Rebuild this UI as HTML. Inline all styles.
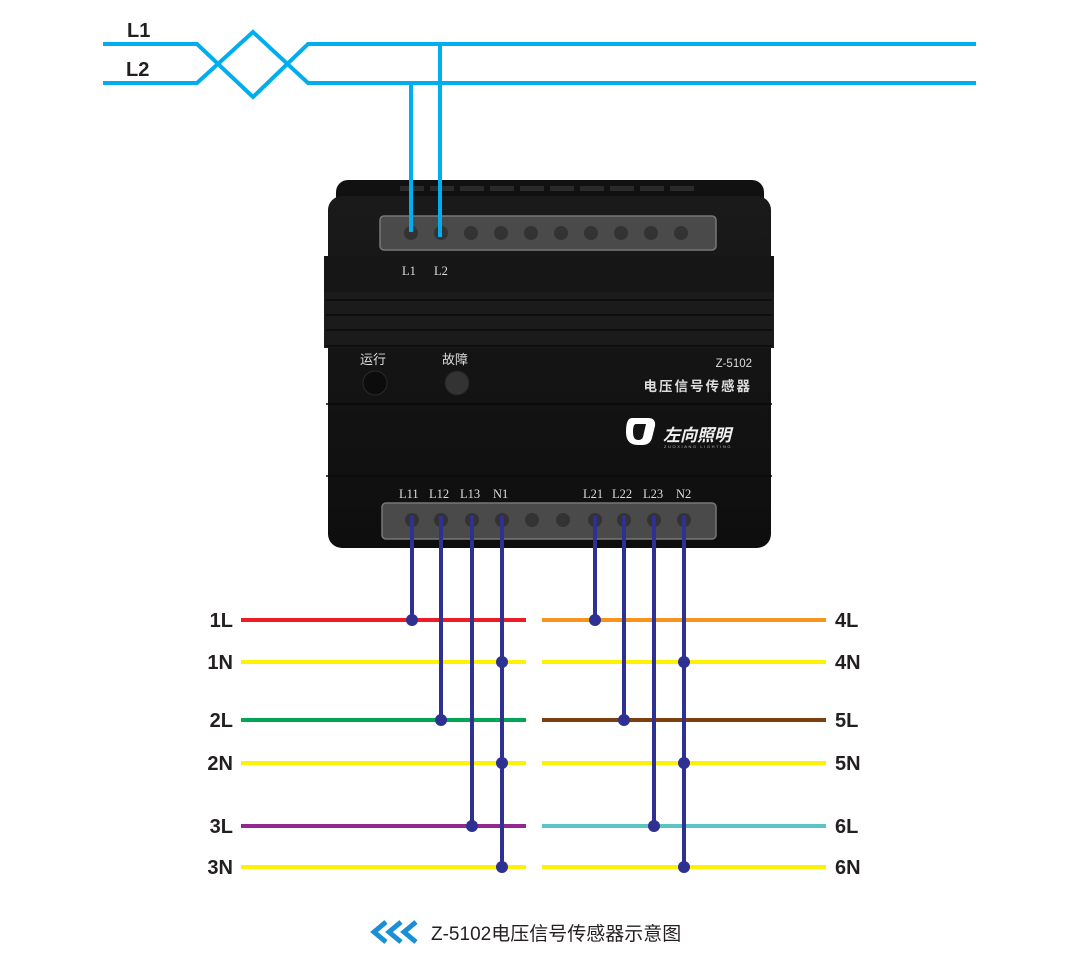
<!DOCTYPE html>
<html><head><meta charset="utf-8"><style>
html,body{margin:0;padding:0;background:#fff;}
svg{display:block}
text{font-family:"Liberation Sans","Noto Sans CJK SC",sans-serif;}
text.serif{font-family:"Liberation Serif",serif;font-size:12.5px;}
</style></head><body>
<svg width="1080" height="964" viewBox="0 0 1080 964" xmlns="http://www.w3.org/2000/svg">
<defs>
<linearGradient id="bd" x1="0" y1="0" x2="0" y2="1">
<stop offset="0" stop-color="#1a1a1a"/><stop offset="0.5" stop-color="#141414"/><stop offset="1" stop-color="#0e0e0e"/>
</linearGradient>
</defs>
<g stroke="#00aeef" stroke-width="4" fill="none" stroke-linejoin="miter">
<polyline points="103,44 197,44 253,97 308,44 976,44"/>
<polyline points="103,83 197,83 253,32 308,83 976,83"/>
</g>
<text x="127" y="37" font-size="20" font-weight="bold" fill="#231f20">L1</text>
<text x="126" y="76" font-size="20" font-weight="bold" fill="#231f20">L2</text>

<rect x="336" y="180" width="428" height="30" rx="12" fill="#111"/>
<rect x="328" y="196" width="443" height="352" rx="14" fill="url(#bd)"/>
<g fill="#2a2a2a">
<rect x="400" y="186" width="24" height="5"/><rect x="430" y="186" width="24" height="5"/><rect x="460" y="186" width="24" height="5"/><rect x="490" y="186" width="24" height="5"/><rect x="520" y="186" width="24" height="5"/><rect x="550" y="186" width="24" height="5"/><rect x="580" y="186" width="24" height="5"/><rect x="610" y="186" width="24" height="5"/><rect x="640" y="186" width="24" height="5"/><rect x="670" y="186" width="24" height="5"/>
</g>
<rect x="324" y="256" width="450" height="36" fill="#161616"/>
<rect x="324" y="292" width="450" height="56" fill="#1b1b1b"/>
<g stroke="#0a0a0a" stroke-width="1.5"><line x1="326" y1="300" x2="772" y2="300"/><line x1="326" y1="315" x2="772" y2="315"/><line x1="326" y1="330" x2="772" y2="330"/><line x1="326" y1="346" x2="772" y2="346"/><line x1="326" y1="404" x2="772" y2="404"/><line x1="326" y1="476" x2="772" y2="476"/></g>
<rect x="380" y="216" width="336" height="34" rx="4" fill="#4a4a4a" stroke="#777" stroke-width="1.5"/>
<g fill="#333"><circle cx="411" cy="233" r="7"/><circle cx="441" cy="233" r="7"/><circle cx="471" cy="233" r="7"/><circle cx="501" cy="233" r="7"/><circle cx="531" cy="233" r="7"/><circle cx="561" cy="233" r="7"/><circle cx="591" cy="233" r="7"/><circle cx="621" cy="233" r="7"/><circle cx="651" cy="233" r="7"/><circle cx="681" cy="233" r="7"/></g>
<rect x="382" y="503" width="334" height="36" rx="4" fill="#4a4a4a" stroke="#777" stroke-width="1.5"/>
<g fill="#333"><circle cx="412" cy="520" r="7"/><circle cx="441" cy="520" r="7"/><circle cx="472" cy="520" r="7"/><circle cx="502" cy="520" r="7"/><circle cx="532" cy="520" r="7"/><circle cx="563" cy="520" r="7"/><circle cx="595" cy="520" r="7"/><circle cx="624" cy="520" r="7"/><circle cx="654" cy="520" r="7"/><circle cx="684" cy="520" r="7"/></g>
<g fill="#ddd">
<text class="serif" x="402" y="275">L1</text><text class="serif" x="434" y="275">L2</text>
<text class="serif" x="399" y="498">L11</text><text class="serif" x="429" y="498">L12</text><text class="serif" x="460" y="498">L13</text><text class="serif" x="493" y="498">N1</text>
<text class="serif" x="583" y="498">L21</text><text class="serif" x="612" y="498">L22</text><text class="serif" x="643" y="498">L23</text><text class="serif" x="676" y="498">N2</text>
</g>
<text x="360" y="364" font-size="13" fill="#ddd">运行</text>
<text x="442" y="364" font-size="13" fill="#ddd">故障</text>
<circle cx="375" cy="383" r="12" fill="#0c0c0c" stroke="#2a2a2a"/>
<circle cx="457" cy="383" r="12" fill="#333" stroke="#222"/>
<text x="752" y="367" font-size="11.5" fill="#ddd" text-anchor="end">Z-5102</text>
<text x="752" y="391" font-size="13.5" fill="#ddd" text-anchor="end" font-weight="bold" letter-spacing="2">电压信号传感器</text>
<path d="M632 418 h16 q8 0 7 8 l-3 12 q-2 7 -10 7 h-4 q-12 0 -12 -13 q0 -14 6 -14z" fill="#fff"/>
<path d="M636 424 h10 l-3 13 q-1 3 -5 3 q-5 0 -5 -8 q0 -8 3 -8z" fill="#151515"/>
<text x="663" y="441" font-size="17" fill="#eee" font-weight="bold" font-style="italic">左向照明</text>
<text x="664" y="448" font-size="4" fill="#bbb" letter-spacing="1.6">ZUOXIANG LIGHTING</text>

<g stroke="#00aeef" stroke-width="4"><line x1="411" y1="83" x2="411" y2="232"/><line x1="440" y1="44" x2="440" y2="237"/></g>

<g stroke-width="4">
<line x1="241" y1="620" x2="526" y2="620" stroke="#ed1c24"/>
<line x1="241" y1="662" x2="526" y2="662" stroke="#fff200"/>
<line x1="241" y1="720" x2="526" y2="720" stroke="#00a651"/>
<line x1="241" y1="763" x2="526" y2="763" stroke="#fff200"/>
<line x1="241" y1="826" x2="526" y2="826" stroke="#92278f"/>
<line x1="241" y1="867" x2="526" y2="867" stroke="#fff200"/>
<line x1="542" y1="620" x2="826" y2="620" stroke="#f7941d"/>
<line x1="542" y1="662" x2="826" y2="662" stroke="#fff200"/>
<line x1="542" y1="720" x2="826" y2="720" stroke="#7b3f12"/>
<line x1="542" y1="763" x2="826" y2="763" stroke="#fff200"/>
<line x1="542" y1="826" x2="826" y2="826" stroke="#5bc5c5"/>
<line x1="542" y1="867" x2="826" y2="867" stroke="#fff200"/>
</g>
<g stroke="#2e3192" stroke-width="4">
<line x1="412" y1="516" x2="412" y2="620"/><line x1="441" y1="516" x2="441" y2="720"/><line x1="472" y1="516" x2="472" y2="826"/><line x1="502" y1="516" x2="502" y2="867"/>
<line x1="595" y1="516" x2="595" y2="620"/><line x1="624" y1="516" x2="624" y2="720"/><line x1="654" y1="516" x2="654" y2="826"/><line x1="684" y1="516" x2="684" y2="867"/>
</g>
<g fill="#2e3192">
<circle cx="412" cy="620" r="6"/><circle cx="441" cy="720" r="6"/><circle cx="472" cy="826" r="6"/><circle cx="502" cy="662" r="6"/><circle cx="502" cy="763" r="6"/><circle cx="502" cy="867" r="6"/>
<circle cx="595" cy="620" r="6"/><circle cx="624" cy="720" r="6"/><circle cx="654" cy="826" r="6"/><circle cx="684" cy="662" r="6"/><circle cx="684" cy="763" r="6"/><circle cx="684" cy="867" r="6"/>
</g>
<g font-size="20" font-weight="bold" fill="#231f20">
<text x="233" y="627" text-anchor="end">1L</text><text x="233" y="669" text-anchor="end">1N</text><text x="233" y="727" text-anchor="end">2L</text><text x="233" y="770" text-anchor="end">2N</text><text x="233" y="833" text-anchor="end">3L</text><text x="233" y="874" text-anchor="end">3N</text>
<text x="835" y="627">4L</text><text x="835" y="669">4N</text><text x="835" y="727">5L</text><text x="835" y="770">5N</text><text x="835" y="833">6L</text><text x="835" y="874">6N</text>
</g>
<g fill="none" stroke="#1a8fd6" stroke-width="5" stroke-linejoin="miter">
<polyline points="386,922 374,932 386,942"/><polyline points="401,922 389,932 401,942"/><polyline points="416,922 404,932 416,942"/>
</g>
<text x="431" y="940" font-size="19" fill="#231f20">Z-5102电压信号传感器示意图</text>
</svg>
</body></html>
